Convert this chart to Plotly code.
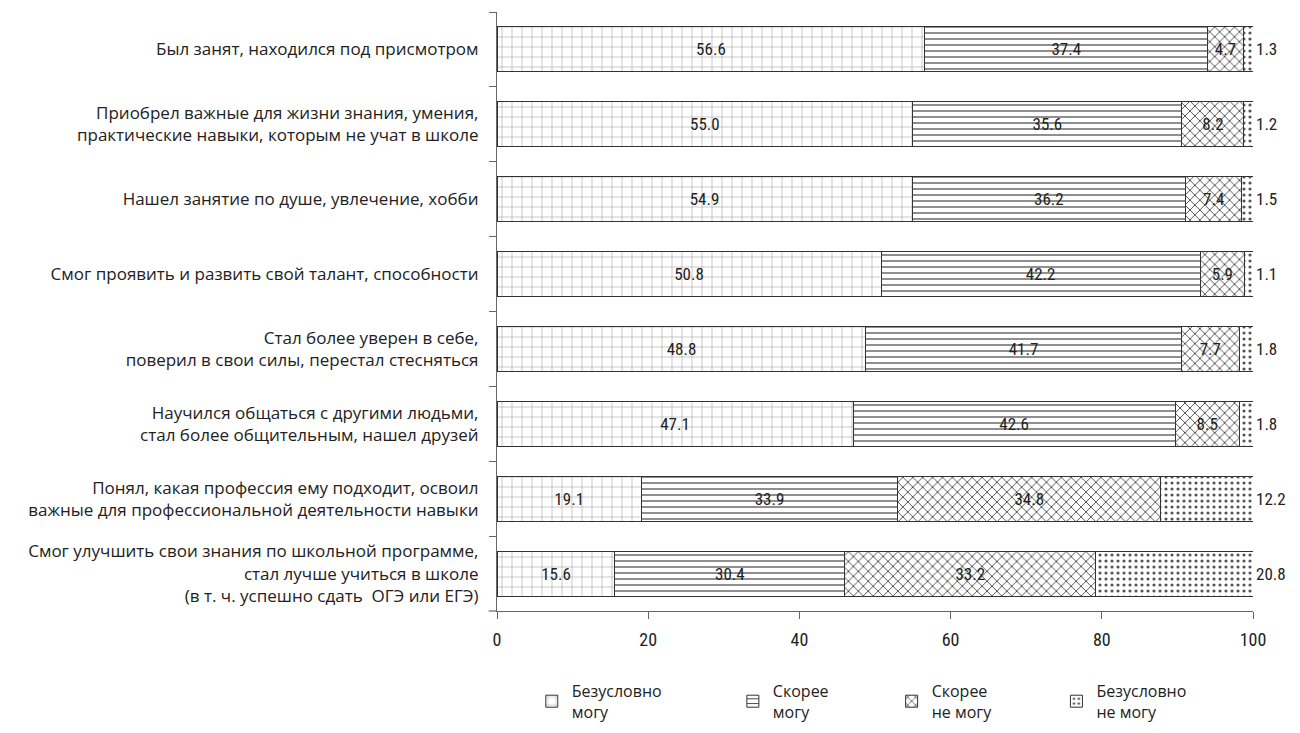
import plotly.graph_objects as go

categories = [
    "Был занят, находился под присмотром",
    "Приобрел важные для жизни знания, умения,<br>практические навыки, которым не учат в школе",
    "Нашел занятие по душе, увлечение, хобби",
    "Смог проявить и развить свой талант, способности",
    "Стал более уверен в себе,<br>поверил в свои силы, перестал стесняться",
    "Научился общаться с другими людьми,<br>стал более общительным, нашел друзей",
    "Понял, какая профессия ему подходит, освоил<br>важные для профессиональной деятельности навыки",
    "Смог улучшить свои знания по школьной программе,<br>стал лучше учиться в школе<br>(в т. ч. успешно сдать  ОГЭ или ЕГЭ)",
]

series_names = ["Безусловно<br>могу", "Скорее<br>могу", "Скорее<br>не могу", "Безусловно<br>не могу"]

definitely_can = [56.6, 55.0, 54.9, 50.8, 48.8, 47.1, 19.1, 15.6]
rather_can = [37.4, 35.6, 36.2, 42.2, 41.7, 42.6, 33.9, 30.4]
rather_cannot = [4.7, 8.2, 7.4, 5.9, 7.7, 8.5, 34.8, 33.2]
definitely_cannot = [1.3, 1.2, 1.5, 1.1, 1.8, 1.8, 12.2, 20.8]

x_ticks = [0, 20, 40, 60, 80, 100]

series_values = [definitely_can, rather_can, rather_cannot, definitely_cannot]
patterns = [
    dict(shape="+", size=10, solidity=0.08, fgcolor="#7a7a7a"),
    dict(shape="-", size=6, solidity=0.2, fgcolor="#444444"),
    dict(shape="x", size=7, solidity=0.22, fgcolor="#333333"),
    dict(shape=".", size=6, solidity=0.22, fgcolor="#555555"),
]
legend_ids = ["legend", "legend2", "legend3", "legend4"]
legend_x = [0.046, 0.312, 0.522, 0.74]

NUM_FONT = "Liberation Sans Narrow, Roboto Condensed, Roboto, sans-serif"
TXT_FONT = "Open Sans, Noto Sans, sans-serif"
INK = "#333333"

fig = go.Figure()
for i, (name, vals, pat) in enumerate(zip(series_names, series_values, patterns)):
    last = i == len(series_values) - 1
    fig.add_trace(go.Bar(
        y=categories,
        x=vals,
        name=name,
        legend=legend_ids[i],
        orientation="h",
        width=0.6,
        marker=dict(
            color="white",
            line=dict(color=INK, width=1),
            pattern=dict(bgcolor="white", fillmode="replace", **pat),
        ),
        text=[f"{v:.1f}" for v in vals],
        textposition="outside" if last else "inside",
        insidetextanchor="middle",
        constraintext="none",
        textangle=0,
        textfont=dict(family=NUM_FONT, size=17, color="#222222"),
        cliponaxis=False,
        hoverinfo="x+name",
    ))

legend_common = dict(
    orientation="v",
    xanchor="left",
    y=-0.105,
    yanchor="top",
    font=dict(family=TXT_FONT, size=16, color="#222222"),
    itemclick=False,
    bgcolor="rgba(0,0,0,0)",
)

fig.update_layout(
    width=1292,
    height=725,
    barmode="stack",
    paper_bgcolor="white",
    plot_bgcolor="white",
    margin=dict(l=489, r=47, t=4, b=115),
    showlegend=True,
    legend=dict(x=legend_x[0], **legend_common),
    legend2=dict(x=legend_x[1], **legend_common),
    legend3=dict(x=legend_x[2], **legend_common),
    legend4=dict(x=legend_x[3], **legend_common),
    xaxis=dict(
        range=[0, 100],
        tickvals=x_ticks,
        ticktext=[str(t) for t in x_ticks],
        showgrid=False,
        zeroline=False,
        showline=True,
        linecolor="#666666",
        linewidth=1.2,
        ticks="outside",
        ticklen=7,
        tickcolor="#666666",
        ticklabelstandoff=5,
        tickfont=dict(family=NUM_FONT, size=18, color="#222222"),
        fixedrange=True,
    ),
    yaxis=dict(
        categoryorder="array",
        categoryarray=categories,
        range=[7.5, -0.5],
        showgrid=False,
        zeroline=False,
        showline=True,
        linecolor="#666666",
        linewidth=1.2,
        ticks="outside",
        tickson="boundaries",
        ticklen=7,
        tickcolor="#666666",
        ticklabelstandoff=14,
        tickfont=dict(family=TXT_FONT, size=17, color="#222222"),
        fixedrange=True,
    ),
    shapes=[
        dict(type="line", xref="paper", yref="paper", x0=-0.011, x1=0, y0=0, y1=0,
             line=dict(color="#666666", width=1.2)),
    ],
)

fig.write_html("out.html")
